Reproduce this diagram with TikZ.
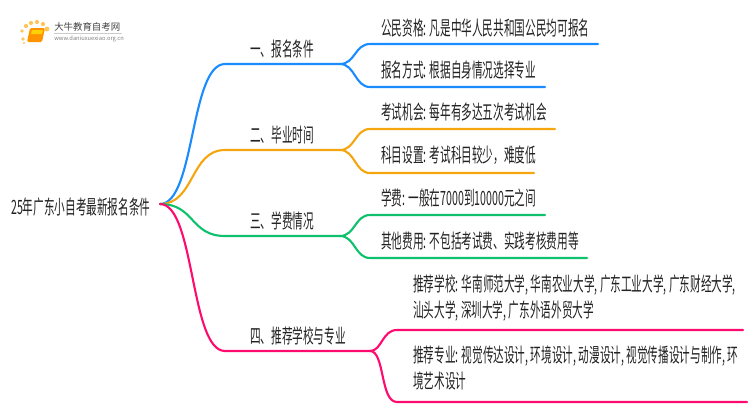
\documentclass[tikz,border=0pt]{standalone}
\usepackage{fontspec}
\setmainfont{Noto Sans CJK SC}
\definecolor{zweigblau}{HTML}{1A8CFF}
\definecolor{zweigorange}{HTML}{F5A60F}
\definecolor{zweiggruen}{HTML}{0FC06C}
\definecolor{zweigrosa}{HTML}{FF0A6E}
\definecolor{schrift}{HTML}{222222}
\tikzset{
  haupttext/.style={anchor=west, inner sep=0pt, text=schrift, xscale=0.54, font=\fontsize{14}{19}\selectfont},
  blatt/.style={haupttext, align=left},
  ast/.style={line width=1.5pt, line cap=round},
  punkt/.style={circle, fill=orange!70!yellow, opacity=0.65, inner sep=0pt, minimum size=#1}
}
\begin{document}
\begin{tikzpicture}[x=0.025cm, y=-0.025cm]
\useasboundingbox (0,0) rectangle (750,410);

% Logo
\foreach \px/\py/\ps in {23/39/2.5pt, 22/31/2.5pt, 26/26/3pt, 31/23/3pt, 37/22/3pt, 43/24/3pt, 47/29/3.5pt, 24/43/1.5pt}
  \node[punkt=\ps] at (\px,\py) {};
\fill[orange!85!yellow, rounded corners=1pt] (30,28) -- (45,28) -- (42,42) -- (27,42) -- cycle;
\fill[yellow!70!orange] (32,30) -- (43,30) -- (42,34) -- (31,34) -- cycle;
\node[anchor=west, inner sep=0pt, text=black!75, font=\fontsize{6.7}{8}\selectfont] (logotitel) at (54,27) {大牛教育自考网};
\node[anchor=west, inner sep=0pt, text=black!50, font=\fontsize{4.1}{5}\selectfont] (logourl) at (54,39) {www.daniuxuexiao.org.cn};
\draw[black!20] (54,33.5) -- (122,33.5);

% Wurzel
\node[haupttext] (wurzel) at (11,207) {25年广东小自考最新报名条件};
\coordinate (start) at (160,204);

% Aeste
\coordinate (a1) at (225,64);  \coordinate (g1) at (340,64);
\coordinate (a2) at (225,150); \coordinate (g2) at (340,150);
\coordinate (a3) at (225,236); \coordinate (g3) at (340,236);
\coordinate (a4) at (225,351); \coordinate (g4) at (370,351);
\draw[ast, zweigblau] (start) .. controls (195,204) and (190,64) .. (a1) -- (g1);
\draw[ast, zweigorange] (start) .. controls (195,204) and (190,150) .. (a2) -- (g2);
\draw[ast, zweiggruen] (start) .. controls (195,204) and (190,236) .. (a3) -- (g3);
\draw[ast, zweigrosa] (start) .. controls (195,204) and (190,351) .. (a4) -- (g4);

% Astbeschriftung
\node[haupttext] (t1) at (250,49) {一、报名条件};
\node[haupttext] (t2) at (250,135) {二、毕业时间};
\node[haupttext] (t3) at (250,221) {三、学费情况};
\node[haupttext] (t4) at (250,336) {四、推荐学校与专业};

% Blaetter
\node[blatt] (b11) at (381,28) {公民资格: 凡是中华人民共和国公民均可报名};
\node[blatt] (b12) at (381,70) {报名方式: 根据自身情况选择专业};
\node[blatt] (b21) at (381,112) {考试机会: 每年有多达五次考试机会};
\node[blatt] (b22) at (381,155) {科目设置: 考试科目较少，难度低};
\node[blatt] (b31) at (381,198) {学费: 一般在7000到10000元之间};
\node[blatt] (b32) at (381,241) {其他费用: 不包括考试费、实践考核费用等};
\node[blatt] (b41) at (413,298) {推荐学校: 华南师范大学, 华南农业大学, 广东工业大学, 广东财经大学,\\汕头大学, 深圳大学, 广东外语外贸大学};
\node[blatt] (b42) at (413,368) {推荐专业: 视觉传达设计, 环境设计, 动漫设计, 视觉传播设计与制作, 环\\境艺术设计};

% Gabeln
\coordinate (e11) at (598,44);  \coordinate (k11) at (370,44);
\coordinate (e12) at (545,87);  \coordinate (k12) at (370,87);
\coordinate (e21) at (555,129); \coordinate (k21) at (370,129);
\coordinate (e22) at (534,173); \coordinate (k22) at (370,173);
\coordinate (e31) at (545,215); \coordinate (k31) at (370,215);
\coordinate (e32) at (587,258); \coordinate (k32) at (370,258);
\coordinate (e41) at (743,330); \coordinate (k41) at (397,330);
\coordinate (e42) at (747,402); \coordinate (k42) at (397,402);
\draw[ast, zweigblau] (g1) .. controls (355,64) and (355,44) .. (k11) -- (e11);
\draw[ast, zweigblau] (g1) .. controls (355,64) and (355,87) .. (k12) -- (e12);
\draw[ast, zweigorange] (g2) .. controls (355,150) and (355,129) .. (k21) -- (e21);
\draw[ast, zweigorange] (g2) .. controls (355,150) and (355,173) .. (k22) -- (e22);
\draw[ast, zweiggruen] (g3) .. controls (355,236) and (355,215) .. (k31) -- (e31);
\draw[ast, zweiggruen] (g3) .. controls (355,236) and (355,258) .. (k32) -- (e32);
\draw[ast, zweigrosa] (g4) .. controls (382,351) and (382,330) .. (k41) -- (e41);
\draw[ast, zweigrosa] (g4) .. controls (385,351) and (380,402) .. (k42) -- (e42);
\end{tikzpicture}
\end{document}
